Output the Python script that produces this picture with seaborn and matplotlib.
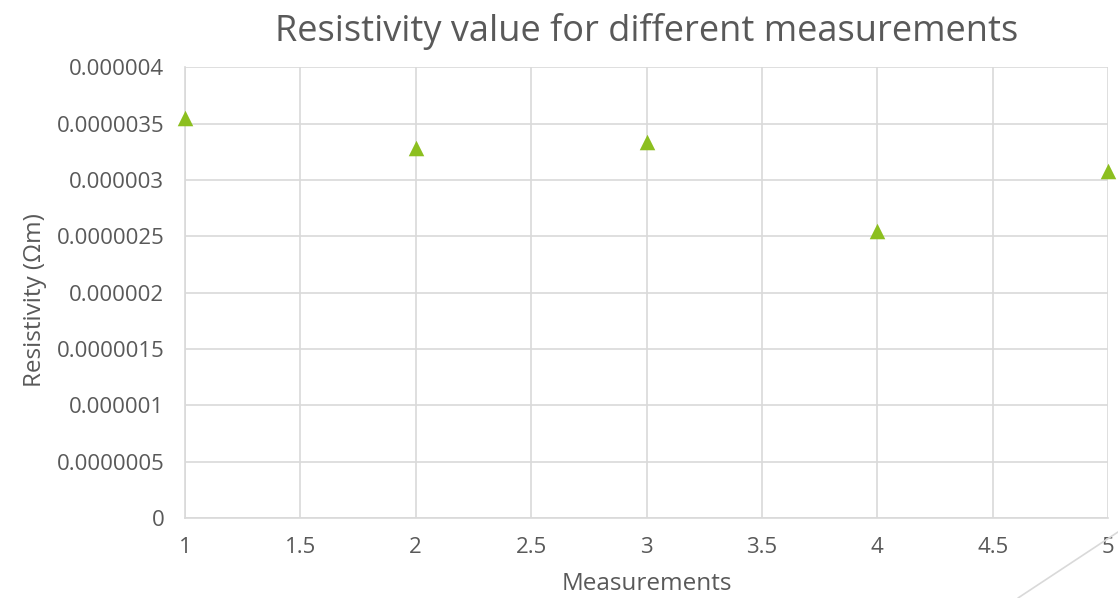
import matplotlib
matplotlib.use("Agg")
import matplotlib.pyplot as plt
from matplotlib.lines import Line2D
import seaborn as sns
import pandas as pd

measurements = [1, 2, 3, 4, 5]
resistivity = [3.552e-6, 3.286e-6, 3.339e-6, 2.549e-6, 3.077e-6]

x_ticks = [1, 1.5, 2, 2.5, 3, 3.5, 4, 4.5, 5]
x_tick_labels = ["1", "1.5", "2", "2.5", "3", "3.5", "4", "4.5", "5"]
y_ticks = [0, 0.5e-6, 1e-6, 1.5e-6, 2e-6, 2.5e-6, 3e-6, 3.5e-6, 4e-6]
y_tick_labels = ["0", "0.0000005", "0.000001", "0.0000015", "0.000002",
                 "0.0000025", "0.000003", "0.0000035", "0.000004"]

df = pd.DataFrame({"Measurements": measurements, "Resistivity": resistivity})

sns.set_theme(style="white")
plt.rcParams['font.family'] = ['Open Sans', 'DejaVu Sans']
text_color = "#595959"
grid_color = "#d9d9d9"

fig = plt.figure(figsize=(11.18, 5.98), dpi=100)
ax = fig.add_axes([185/1118, 1-518/598, (1108-185)/1118, (518-67.4)/598])

sns.scatterplot(data=df, x="Measurements", y="Resistivity", marker="^",
                s=125, color="#8cbf1f", linewidth=0, ax=ax, clip_on=False, zorder=3)

ax.set_xlim(1, 5)
ax.set_ylim(0, 4e-6)
ax.set_xticks(x_ticks)
ax.set_xticklabels(x_tick_labels)
ax.set_yticks(y_ticks)
ax.set_yticklabels(y_tick_labels)
ax.grid(True, color=grid_color, linewidth=1.2)
ax.set_axisbelow(True)
for side in ["top", "right"]:
    ax.spines[side].set_visible(False)
for side in ["left", "bottom"]:
    ax.spines[side].set_color(grid_color)
    ax.spines[side].set_linewidth(1.2)
ax.tick_params(axis="both", length=0, labelsize=16, colors=text_color)
ax.tick_params(axis="x", pad=14)
ax.tick_params(axis="y", pad=15)

ax.set_xlabel("Measurements", fontsize=17.5, color=text_color, labelpad=10)
ax.set_ylabel("Resistivity (Ωm)", fontsize=17.5, color=text_color)
ax.yaxis.set_label_coords(-0.149, 0.484)
ax.set_title("Resistivity value for different measurements", fontsize=26,
             color=text_color, pad=19)

fig.add_artist(Line2D([1018/1118, 1118/1118], [1-598/598, 1-532/598],
                      transform=fig.transFigure, color=grid_color, linewidth=1.2))

fig.savefig("out.png", dpi=100)
